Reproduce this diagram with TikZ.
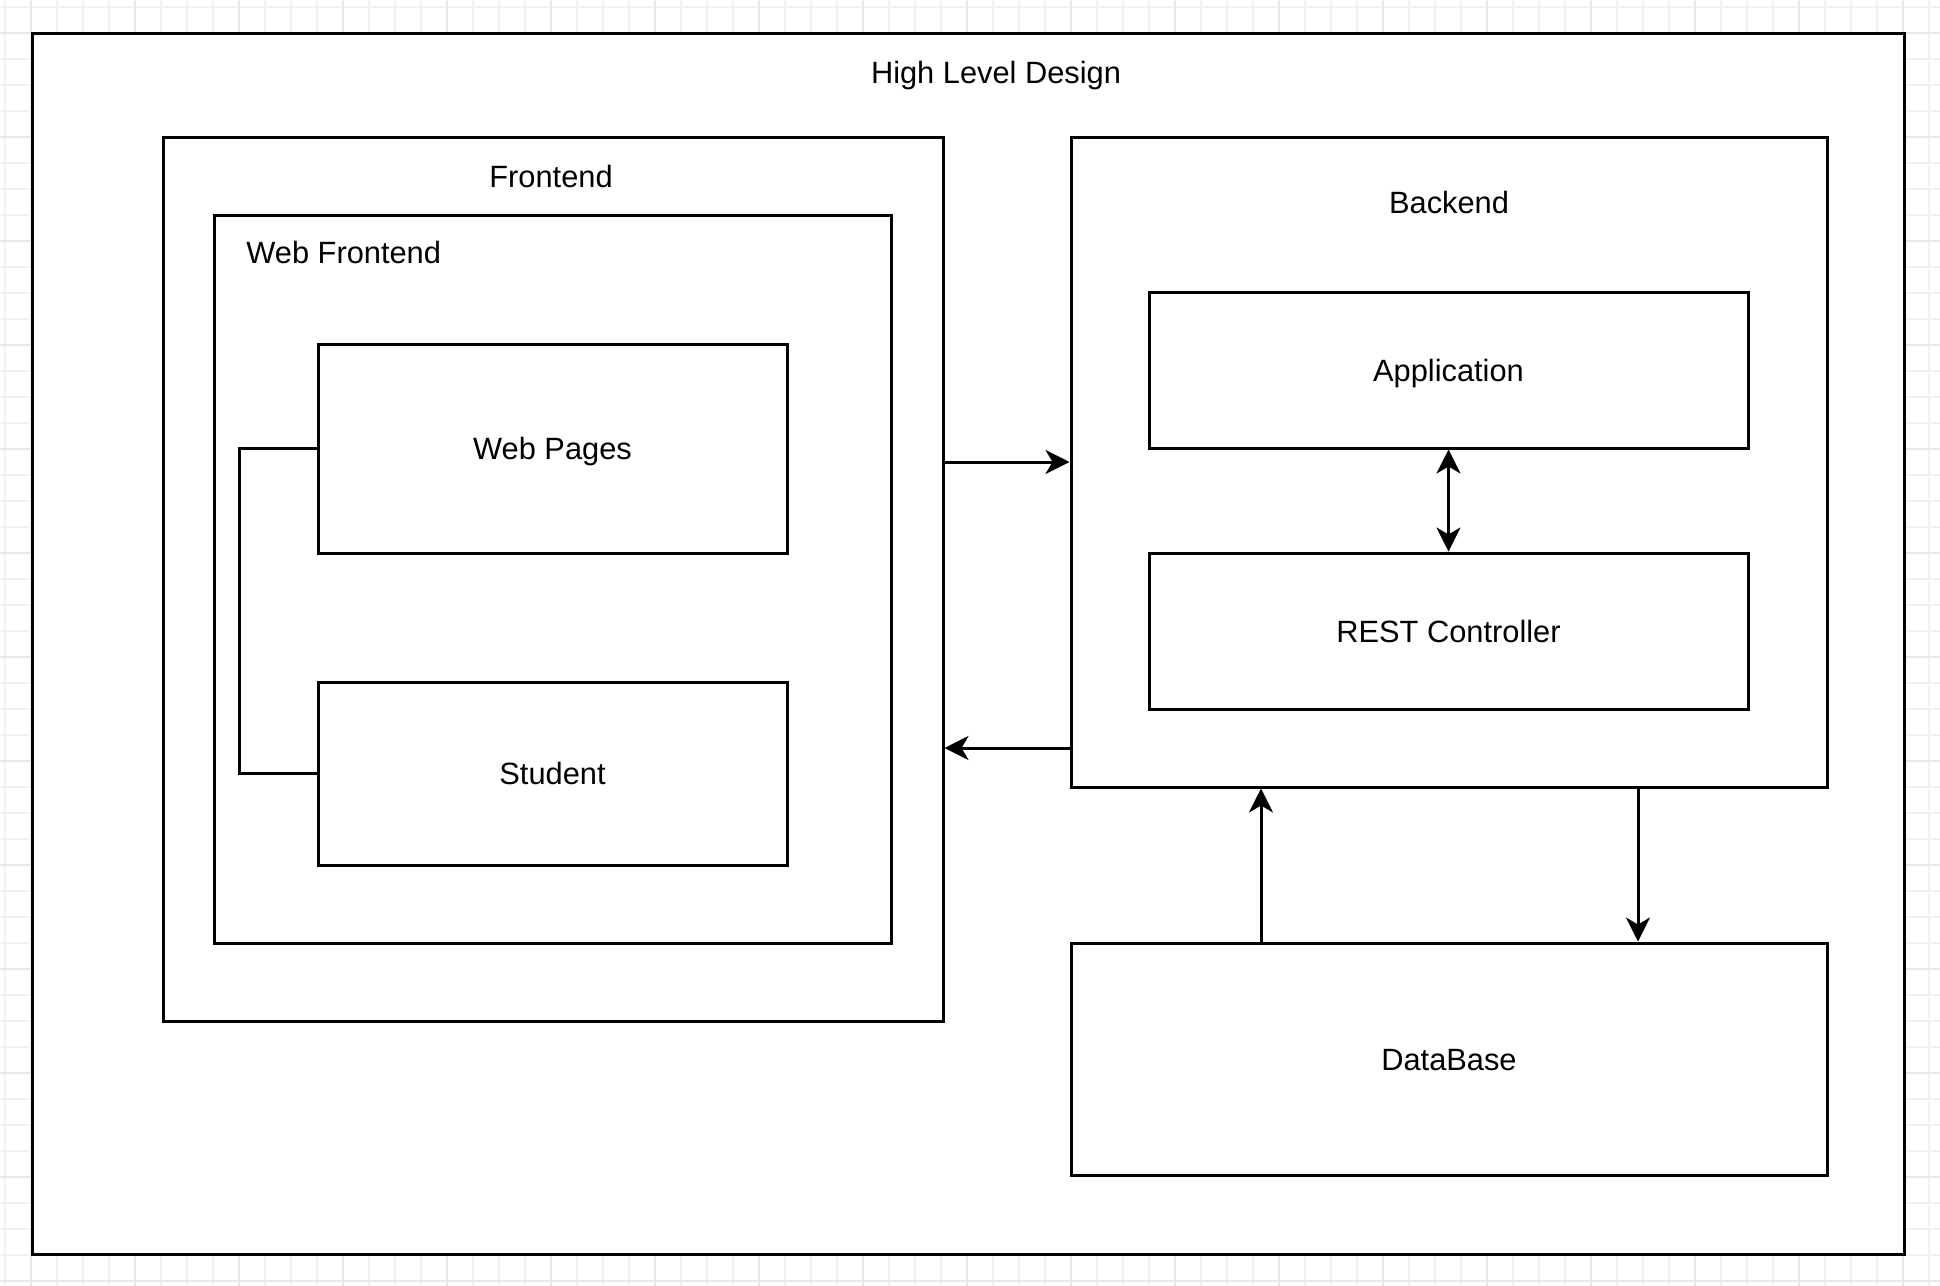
\documentclass[tikz,border=0pt]{standalone}
\usepackage{fontspec}
\setmainfont{Liberation Sans}
\usetikzlibrary{arrows.meta}
\tikzset{
  box/.style={draw,line width=1.5pt,fill=white,inner sep=0pt,text height=11pt,text depth=0pt},
  lbl/.style={anchor=base,inner sep=0pt},
  pfeil/.style={line width=1.5pt,-{Stealth[length=12pt,width=12pt,inset=3.5pt]}},
  doppelpfeil/.style={line width=1.5pt,{Stealth[length=12pt,width=12pt,inset=3.5pt]}-{Stealth[length=12pt,width=12pt,inset=3.5pt]}},
}
\begin{document}
\begin{tikzpicture}[x=0.5pt,y=-0.5pt,font=\fontsize{15.4}{18}\selectfont]
% Hintergrund
\useasboundingbox (0,0) rectangle (1940,1286);
\fill[white] (0,0) rectangle (1940,1286);
\foreach \x in {5,31,...,1940} \draw[line width=1pt,black!5] (\x,0) -- (\x,1286);
\foreach \y in {7,33,...,1286} \draw[line width=1pt,black!5] (0,\y) -- (1940,\y);
\foreach \x in {31,135,...,1940} \draw[line width=1pt,black!9] (\x,0) -- (\x,1286);
\foreach \y in {33,137,...,1286} \draw[line width=1pt,black!9] (0,\y) -- (1940,\y);

% Rahmen
\node[box,minimum width=936pt,minimum height=610.5pt] (hld) at (968,643.5) {};
\node[lbl] (hldtitle) at (996,83) {High Level Design};

% Frontend
\node[box,minimum width=390pt,minimum height=442pt] (frontend) at (553,579) {};
\node[lbl] (frontendtitle) at (551,187) {Frontend};
\node[box,minimum width=338.5pt,minimum height=364pt] (webfrontend) at (552.5,579) {};
\node[lbl,anchor=base west] (webfrontendtitle) at (246,263) {Web Frontend};
\node[box,minimum width=234.5pt,minimum height=104.5pt] (webpages) at (552.5,448.5) {Web Pages};
\node[box,minimum width=234.5pt,minimum height=91.5pt] (student) at (552.5,773.5) {Student};

% Backend
\node[box,minimum width=378pt,minimum height=325pt] (backend) at (1449,462) {};
\node[lbl] (backendtitle) at (1449,213) {Backend};
\node[box,minimum width=299.5pt,minimum height=78pt] (application) at (1448.5,370) {Application};
\node[box,minimum width=299.5pt,minimum height=78pt] (rest) at (1448.5,631) {REST Controller};

% Datenbank
\node[box,minimum width=378pt,minimum height=116pt] (database) at (1449,1059) {DataBase};

% Pfeile
\coordinate (rueck) at (0,748);
\coordinate (hoch) at (1261,0);
\coordinate (runter) at (1638,0);
\draw[pfeil] (frontend.east |- backend.west) -- (backend.west);
\draw[pfeil] (backend.west |- rueck) -- (frontend.east |- rueck);
\draw[doppelpfeil] (application) -- (rest);
\draw[pfeil] (database.north -| hoch) -- (backend.south -| hoch);
\draw[pfeil] (backend.south -| runter) -- (database.north -| runter);
\draw[line width=1.5pt] (webpages.west) -- ++(-77,0) |- (student.west);
\end{tikzpicture}
\end{document}
